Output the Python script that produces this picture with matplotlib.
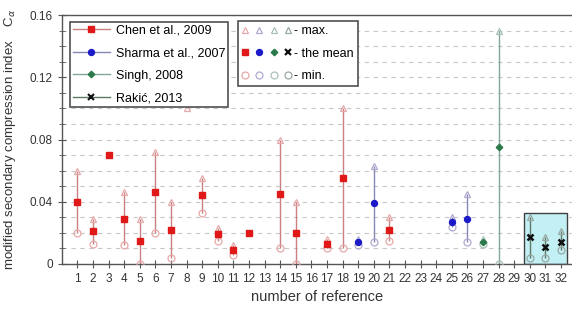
import matplotlib.pyplot as plt
import numpy as np
from matplotlib.lines import Line2D
from matplotlib.patches import Rectangle
from matplotlib.legend_handler import HandlerTuple

plt.rcParams['font.family'] = ['Liberation Sans', 'DejaVu Sans']

nan = np.nan

# Chen et al., 2009
chen_ref = [1, 2, 3, 4, 5, 6, 7, 8, 9, 10, 11, 12, 14, 15, 17, 18, 21]
chen_max = [0.060, 0.029, nan, 0.046, 0.029, 0.072, 0.040, 0.100, 0.055, 0.023, 0.012, nan, 0.080, 0.040, 0.016, 0.100, 0.030]
chen_mean = [0.040, 0.021, 0.070, 0.029, 0.015, 0.046, 0.022, nan, 0.044, 0.019, 0.009, 0.020, 0.045, 0.020, 0.013, 0.055, 0.022]
chen_min = [0.020, 0.013, nan, 0.012, 0.000, 0.020, 0.004, nan, 0.033, 0.015, 0.006, nan, 0.010, 0.000, 0.010, 0.010, 0.015]

# Sharma et al., 2007
sharma_ref = [19, 20, 25, 26]
sharma_max = [0.016, 0.063, 0.030, 0.045]
sharma_mean = [0.014, 0.039, 0.027, 0.029]
sharma_min = [0.012, 0.014, 0.024, 0.014]

# Singh, 2008
singh_ref = [27, 28]
singh_max = [0.016, 0.150]
singh_mean = [0.014, 0.075]
singh_min = [0.013, 0.000]

# Rakic, 2013
rakic_ref = [30, 31, 32]
rakic_max = [0.030, 0.017, 0.021]
rakic_mean = [0.017, 0.011, 0.014]
rakic_min = [0.004, 0.004, 0.009]

series = [
    ('Chen et al., 2009', chen_ref, chen_max, chen_mean, chen_min, 's', '#e01818', '#c98080', '#e6a8a8', 5),
    ('Sharma et al., 2007', sharma_ref, sharma_max, sharma_mean, sharma_min, 'o', '#1a1ac8', '#8888b8', '#b0a8d0', 4.3),
    ('Singh, 2008', singh_ref, singh_max, singh_mean, singh_min, 'D', '#2a7a4a', '#80a898', '#a8c0b8', 3.3),
    ('Rakić, 2013', rakic_ref, rakic_max, rakic_mean, rakic_min, 'x', '#111111', '#607868', '#98a8a0', 4.5),
]

fig = plt.figure(figsize=(5.72, 3.09), dpi=100)
ax = fig.add_axes([0.108, 0.146, 0.892, 0.805])

ax.add_patch(Rectangle((29.65, 0.0), 2.75, 0.033, facecolor='#c2f0f5',
                       edgecolor='#404040', lw=1.0, zorder=1))

leg1_handles = []
tri_h, mean_h, circ_h = [], [], []
for name, ref, mx, mn, mi, mk, col, lcol, ocol, ms in series:
    ref = np.array(ref, float)
    mx = np.array(mx)
    mn = np.array(mn)
    mi = np.array(mi)
    ok = ~np.isnan(mx) & ~np.isnan(mi)
    ax.vlines(ref[ok], mi[ok], mx[ok], color=lcol, lw=1.0, zorder=2)
    ax.plot(ref, mx, ls='none', marker='^', ms=4.5, mfc='none', mec=ocol, mew=0.9, zorder=3)
    ax.plot(ref, mi, ls='none', marker='o', ms=5, mfc='none', mec=ocol, mew=0.9, zorder=3)
    if mk == 'x':
        ax.plot(ref, mn, ls='none', marker=mk, ms=ms, color=col, mew=1.8, zorder=4)
    else:
        ax.plot(ref, mn, ls='none', marker=mk, ms=ms, color=col, zorder=4)
    leg1_handles.append(Line2D([], [], color=lcol, lw=1.0, marker=mk, ms=ms if mk != 'x' else 4,
                               mfc=col, mec=col, mew=1.5 if mk == 'x' else 1))
    tri_h.append(Line2D([], [], ls='none', marker='^', ms=4.5, mfc='none', mec=ocol, mew=0.9))
    mean_h.append(Line2D([], [], ls='none', marker=mk, ms=ms if mk != 'x' else 4,
                         mfc=col, mec=col, mew=1.6 if mk == 'x' else 1))
    circ_h.append(Line2D([], [], ls='none', marker='o', ms=5, mfc='none', mec=ocol, mew=0.9))

ax.set_xlim(0, 32.7)
ax.set_ylim(0, 0.16)
ax.set_xticks(range(1, 33))
ax.set_yticks([0, 0.04, 0.08, 0.12, 0.16])
ax.set_yticklabels(['0', '0.04', '0.08', '0.12', '0.16'])
ax.set_yticks(np.arange(0, 0.161, 0.01), minor=True)
ax.tick_params(axis='both', which='both', direction='inout', color='#555555', labelsize=8.5,
               labelcolor='#333333')
ax.tick_params(axis='both', which='major', length=6)
ax.tick_params(axis='y', which='minor', length=4)
ax.grid(True, axis='y', which='both', ls=(0, (4, 4)), color='#c8c8c8', lw=0.8, zorder=0)
ax.set_axisbelow(True)
for s in ['left', 'bottom', 'top']:
    ax.spines[s].set_color('#555555')
    ax.spines[s].set_linewidth(1.0)
ax.spines['right'].set_visible(False)

ax.set_xlabel('number of reference', fontsize=10.5, color='#333333')
ax.set_ylabel('modified secondary compression index    C$_\\alpha$', fontsize=9.5, color='#333333',
              labelpad=2)
ax.yaxis.set_label_coords(-0.085, 0.5)

leg1 = ax.legend(leg1_handles, [s[0] for s in series], loc='upper left',
                 bbox_to_anchor=(0.004, 0.998), fontsize=9, handlelength=3.0,
                 labelspacing=0.85, fancybox=False, edgecolor='#505050', framealpha=1,
                 borderpad=0.2, handletextpad=0.5)
leg1.get_frame().set_linewidth(1.2)
ax.add_artist(leg1)

leg2 = ax.legend([tuple(tri_h), tuple(mean_h), tuple(circ_h)], ['- max.', '- the mean', '- min.'],
                 handler_map={tuple: HandlerTuple(ndivide=None, pad=0.6)},
                 loc='upper left', bbox_to_anchor=(0.333, 1.0), fontsize=9,
                 handlelength=4.0, labelspacing=0.85, fancybox=False, edgecolor='#505050',
                 framealpha=1, borderpad=0.3, handletextpad=0.2)
leg2.get_frame().set_linewidth(1.2)

fig.savefig('out.png', dpi=100)
